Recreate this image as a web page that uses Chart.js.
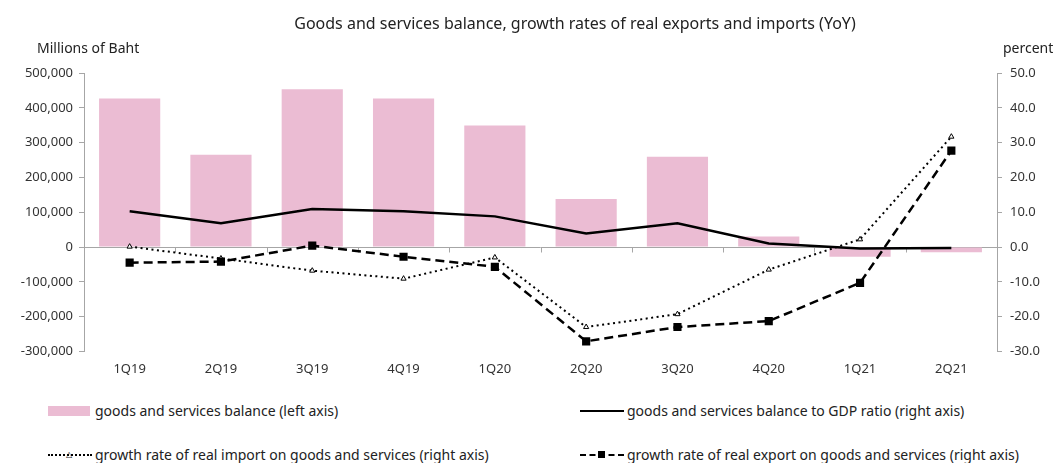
<!DOCTYPE html>
<html>
<head>
<meta charset="utf-8">
<script src="https://cdn.jsdelivr.net/npm/chart.js@4.4.0/dist/chart.umd.min.js"></script>
<style>
  body { margin: 0; background: #fff; font-family: "Noto Sans", sans-serif; color: #222; }
  #wrap { position: relative; width: 1063px; height: 463px; }
  #c { position: absolute; left: 0; top: 0; }
  .txt { position: absolute; font-size: 14px; white-space: nowrap; }
  #title { left: 0; width: 1150px; text-align: center; top: 12px; font-size: 16px; }
  .leg { position: absolute; font-size: 14px; white-space: nowrap; display: flex; align-items: center; }
  .sym { position: relative; width: 44px; height: 12px; margin-right: 3px; }
</style>
</head>
<body>
<div id="wrap">
  <canvas id="c" width="1063" height="390"></canvas>
  <div class="txt" id="title">Goods and services balance, growth rates of real exports and imports (YoY)</div>
  <div class="txt" style="left:37px; top:38px;">Millions of Baht</div>
  <div class="txt" style="left:1003px; top:38px;">percent</div>

  <div class="leg" style="left:48px; top:401px;">
    <div class="sym"><div style="position:absolute;left:0;top:1px;width:42px;height:10px;background:#ebbcd3"></div></div>
    goods and services balance (left axis)
  </div>
  <div class="leg" style="left:580px; top:401px;">
    <div class="sym"><div style="position:absolute;left:0;top:5px;width:44px;border-top:2.5px solid #000"></div></div>
    goods and services balance to GDP ratio (right axis)
  </div>
  <div class="leg" style="left:48px; top:445px;">
    <div class="sym"><div style="position:absolute;left:0;top:5px;width:44px;border-top:2px dotted #000"></div>
      <div style="position:absolute;left:18px;top:1px;font-size:8px;line-height:8px">&#9651;</div></div>
    growth rate of real import on goods and services (right axis)
  </div>
  <div class="leg" style="left:580px; top:445px;">
    <div class="sym"><div style="position:absolute;left:0;top:5px;width:44px;border-top:2.5px dashed #000"></div>
      <div style="position:absolute;left:18px;top:2px;width:7px;height:7px;background:#000"></div></div>
    growth rate of real export on goods and services (right axis)
  </div>
</div>
<script>
const categories = ['1Q19','2Q19','3Q19','4Q19','1Q20','2Q20','3Q20','4Q20','1Q21','2Q21'];
const balance = [427000, 265000, 453000, 427000, 349000, 138000, 259000, 30000, -28000, -15000];
const gdpRatio = [10.3, 6.8, 10.9, 10.3, 8.8, 3.9, 6.8, 1.0, -0.4, -0.3];
const importGrowth = [0.1, -3.3, -6.8, -9.1, -3.0, -23.0, -19.3, -6.5, 2.2, 31.7];
const exportGrowth = [-4.5, -4.2, 0.4, -2.8, -5.7, -27.1, -23.0, -21.3, -10.3, 27.7];

const axisGray = '#a6a6a6';

// zero line with category ticks pointing down
const zeroLine = {
  id: 'zeroLine',
  beforeDatasetsDraw(chart) {
    const { ctx, chartArea, scales } = chart;
    const y = Math.round(scales.y.getPixelForValue(0)) + 0.5;
    ctx.save();
    ctx.strokeStyle = axisGray;
    ctx.lineWidth = 1;
    ctx.beginPath();
    ctx.moveTo(chartArea.left, y);
    ctx.lineTo(chartArea.right, y);
    const step = (chartArea.right - chartArea.left) / categories.length;
    for (let i = 1; i < categories.length; i++) {
      const x = Math.round(chartArea.left + step * i) + 0.5;
      ctx.moveTo(x, y);
      ctx.lineTo(x, y + 5);
    }
    ctx.stroke();
    ctx.restore();
  }
};

const ctx = document.getElementById('c').getContext('2d');
new Chart(ctx, {
  data: {
    labels: categories,
    datasets: [
      { type: 'line', label: 'goods and services balance to GDP ratio (right axis)', data: gdpRatio, yAxisID: 'y1',
        borderColor: '#000', borderWidth: 2.5, pointRadius: 0, tension: 0, order: 1 },
      { type: 'line', label: 'growth rate of real export on goods and services (right axis)', data: exportGrowth, yAxisID: 'y1',
        borderColor: '#000', borderWidth: 2.5, borderDash: [9, 5], pointStyle: 'rect', pointRadius: 4,
        pointBackgroundColor: '#000', pointBorderColor: '#000', tension: 0, order: 2 },
      { type: 'line', label: 'growth rate of real import on goods and services (right axis)', data: importGrowth, yAxisID: 'y1',
        borderColor: '#000', borderWidth: 2, borderDash: [2, 3.5], pointStyle: 'triangle', pointRadius: 3,
        pointBackgroundColor: '#fff', pointBorderColor: '#000', pointBorderWidth: 1, tension: 0, order: 3 },
      { type: 'bar', label: 'goods and services balance (left axis)', data: balance, yAxisID: 'y',
        backgroundColor: '#ebbcd3', categoryPercentage: 1, barPercentage: 0.67, order: 10 }
    ]
  },
  options: {
    responsive: false,
    animation: false,
    layout: { padding: { top: 73, bottom: 11, left: 0, right: 0 } },
    plugins: { legend: { display: false }, tooltip: { enabled: false } },
    scales: {
      x: {
        grid: { display: false },
        border: { display: false },
        ticks: { color: '#333', font: { family: 'Noto Sans', size: 13 }, padding: 2 }
      },
      y: {
        position: 'left', min: -300000, max: 500000,
        afterFit(s) { s.width = 84; },
        grid: { drawOnChartArea: false, color: axisGray, tickLength: 5 },
        border: { color: axisGray },
        ticks: { stepSize: 100000, color: '#333', padding: 6, font: { family: 'Noto Sans', size: 13 },
          callback: v => v.toLocaleString('en-US') }
      },
      y1: {
        position: 'right', min: -30, max: 50,
        afterFit(s) { s.width = 66; },
        grid: { drawOnChartArea: false, color: axisGray, tickLength: 5 },
        border: { color: axisGray },
        ticks: { stepSize: 10, color: '#333', padding: 8, font: { family: 'Noto Sans', size: 13 },
          callback: v => v.toFixed(1) }
      }
    }
  },
  plugins: [zeroLine]
});
</script>
</body>
</html>
